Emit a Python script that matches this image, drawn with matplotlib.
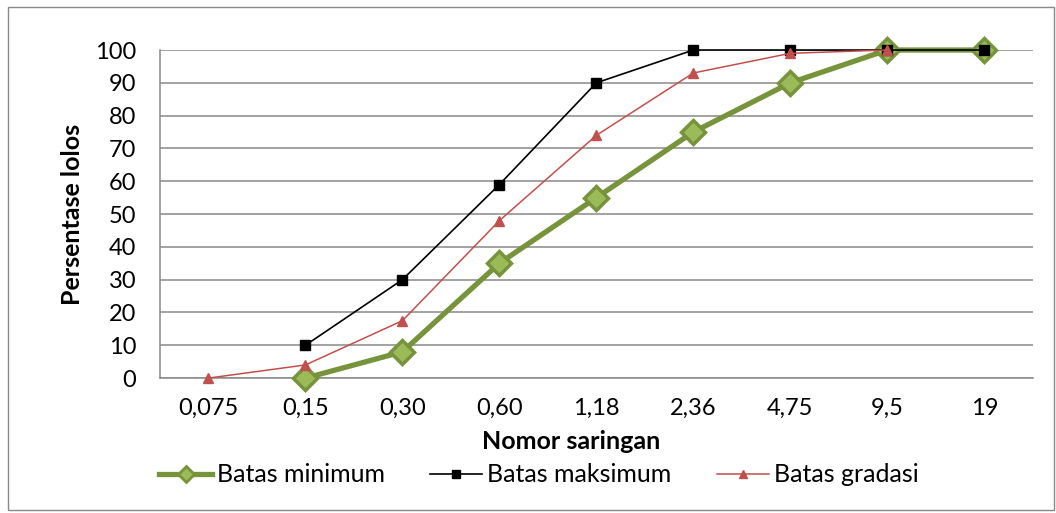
import numpy as np
import matplotlib.pyplot as plt
from matplotlib.patches import Rectangle

plt.rcParams['font.family'] = ['Lato', 'DejaVu Sans']

# ukuran saringan (mm) dan persentase lolos
saringan = ['0,075', '0,15', '0,30', '0,60', '1,18', '2,36', '4,75', '9,5', '19']
batas_min = [np.nan, 0, 8, 35, 55, 75, 90, 100, 100]
batas_maks = [np.nan, 10, 30, 59, 90, 100, 100, 100, 100]
gradasi = [0, 4, 17.5, 48, 74, 93, 99, 100, np.nan]

x = np.arange(len(saringan))

fig = plt.figure(figsize=(10.56, 5.13), dpi=100)
ax = fig.add_axes([0.1515, 0.263, 0.8265, 0.6395])

grid_col = '#898989'
ax.plot(x, batas_min, color='#77933C', lw=3.8, marker='D', ms=12,
        mfc='#9BBB59', mec='#77933C', mew=2.5, label='Batas minimum',
        zorder=3, clip_on=False)
ax.plot(x, batas_maks, color='black', lw=1.2, marker='s', ms=7,
        label='Batas maksimum', zorder=4, clip_on=False)
ax.plot(x, gradasi, color='#C0504D', lw=1.1, marker='^', ms=7,
        label='Batas gradasi', zorder=5, clip_on=False)

ax.set_xlim(-0.5, len(saringan) - 0.5)
ax.set_ylim(0, 100)
ax.set_yticks(range(0, 101, 10))
ax.set_xticks(x)
ax.set_xticklabels(saringan)
ax.tick_params(axis='both', length=0, labelsize=17)
ax.tick_params(axis='x', pad=14)
ax.tick_params(axis='y', pad=17)
ax.grid(axis='y', color=grid_col, lw=1.1)
ax.set_axisbelow(True)
for side in ['top', 'right']:
    ax.spines[side].set_visible(False)
ax.spines['left'].set_color(grid_col)
ax.spines['bottom'].set_color(grid_col)
ax.spines['left'].set_linewidth(1.1)
ax.spines['bottom'].set_linewidth(1.1)

ax.set_xlabel('Nomor saringan', fontsize=18, fontweight='bold')
ax.xaxis.set_label_coords((571 - 160) / 873, -(441 - 378) / 328)
ax.xaxis.label.set_va('center')
ax.set_ylabel('Persentase lolos', fontsize=18, fontweight='bold')
ax.yaxis.set_label_coords(-(160 - 72) / 873, 0.5)
ax.yaxis.label.set_va('center')

leg = fig.legend(loc='center', bbox_to_anchor=(539 / 1056, 1 - 475 / 513), ncol=3,
                 frameon=False, fontsize=18, handlelength=2.1, columnspacing=1.8,
                 handletextpad=0.2)
# penanda di legenda sedikit lebih kecil
handles = leg.legend_handles
handles[0].set_markersize(8)
handles[0].set_markeredgewidth(2)
handles[1].set_markersize(6)
handles[2].set_markersize(6)

# bingkai luar grafik
fig.patches.append(Rectangle((0.008, 0.006), 0.99, 0.98, transform=fig.transFigure,
                             fill=False, ec=grid_col, lw=1.0))

fig.savefig('out.png', dpi=100)
